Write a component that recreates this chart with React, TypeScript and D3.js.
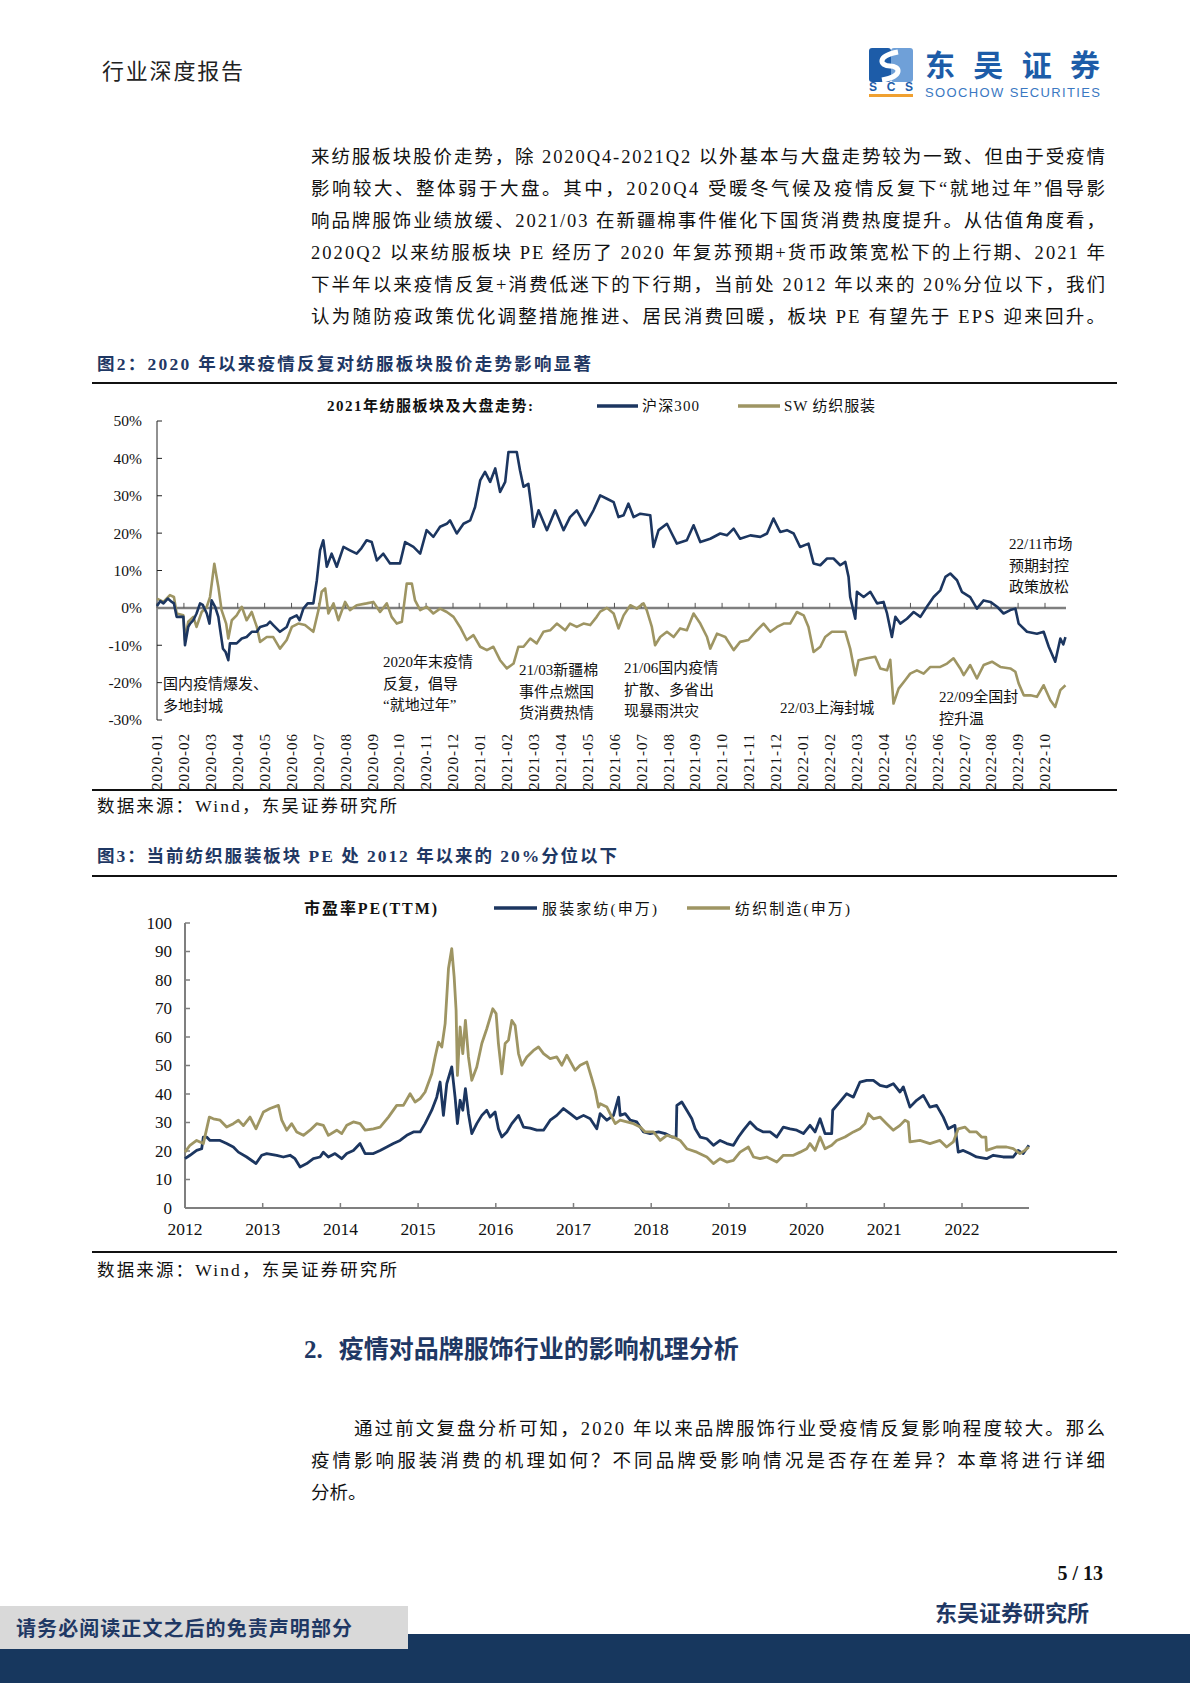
import React from "react";
import * as d3 from "d3";

const SERIF = "'Liberation Serif','Noto Sans CJK SC',serif";
const NAVY = "#1c3660";
const KHAKI = "#9e9563";
const TITLE = "#1f3864";

// ---- figure 2 : index vs sector, cumulative % since 2020-01 (x = month index)
const monthLabels = [
  "2020-01", "2020-02", "2020-03", "2020-04", "2020-05", "2020-06", "2020-07", "2020-08", "2020-09", "2020-10", "2020-11", "2020-12",
  "2021-01", "2021-02", "2021-03", "2021-04", "2021-05", "2021-06", "2021-07", "2021-08", "2021-09", "2021-10", "2021-11", "2021-12",
  "2022-01", "2022-02", "2022-03", "2022-04", "2022-05", "2022-06", "2022-07", "2022-08", "2022-09", "2022-10",
];
const pctTicks = [50, 40, 30, 20, 10, 0, -10, -20, -30];

const hs300: [number, number][] = [
  [0, 0.5], [0.12, 1.8], [0.24, 1.2], [0.4, 2.5], [0.55, 1.6], [0.63, 1.2], [0.73, -2.4], [0.98, -2.4], [1.04, -10.0], [1.16, -5.1],
  [1.23, -4.2], [1.35, -3.3], [1.47, -1.5], [1.6, 1.2], [1.7, 0.8], [1.85, -1.5], [1.95, -4.2], [2.03, 2.0], [2.16, 0.3], [2.28, -2.4],
  [2.34, -5.5], [2.45, -10.9], [2.55, -11.8], [2.65, -14.0], [2.71, -9.5], [2.96, -9.5], [3.15, -8.2], [3.33, -7.8], [3.52, -6.4], [3.71, -6.4],
  [3.83, -5.1], [4.08, -4.6], [4.2, -3.7], [4.32, -4.6], [4.57, -6.4], [4.82, -5.1], [4.94, -2.9], [5.19, -2.0], [5.3, -3.3], [5.44, -0.2],
  [5.6, 1.2], [5.81, 1.2], [5.94, 7.4], [6.06, 15.4], [6.18, 18.1], [6.31, 11.0], [6.49, 14.5], [6.68, 11.0], [6.93, 16.3], [7.17, 15.4],
  [7.42, 14.5], [7.6, 16.0], [7.79, 18.1], [7.98, 17.6], [8.17, 12.7], [8.41, 14.5], [8.66, 11.9], [9.03, 11.9], [9.22, 17.6], [9.53, 16.3],
  [9.78, 14.5], [10.02, 20.8], [10.27, 19.0], [10.52, 21.7], [10.77, 22.5], [10.89, 23.4], [11.14, 19.9], [11.39, 22.5], [11.64, 23.4], [11.82, 27.0],
  [12.01, 34.1], [12.19, 36.4], [12.38, 33.7], [12.57, 37.3], [12.75, 31.0], [12.94, 33.7], [13.06, 41.7], [13.37, 41.7], [13.49, 36.8], [13.62, 32.4],
  [13.8, 33.2], [13.93, 26.1], [13.99, 21.7], [14.18, 26.1], [14.49, 20.8], [14.8, 26.1], [15.11, 20.8], [15.35, 24.3], [15.6, 26.1], [15.91, 22.1],
  [16.22, 26.1], [16.47, 30.1], [16.72, 29.2], [16.97, 28.3], [17.15, 24.3], [17.34, 24.8], [17.52, 27.9], [17.71, 24.3], [17.96, 25.2], [18.33, 24.8],
  [18.45, 16.3], [18.64, 20.8], [18.95, 22.5], [19.13, 19.9], [19.32, 17.2], [19.69, 18.1], [19.94, 22.1], [20.19, 17.6], [20.56, 18.5], [20.93, 19.9],
  [21.18, 19.4], [21.43, 21.2], [21.67, 18.5], [22.05, 19.4], [22.42, 19.0], [22.67, 19.9], [22.91, 23.9], [23.16, 20.3], [23.41, 20.8], [23.66, 19.9],
  [23.9, 16.3], [24.21, 17.2], [24.4, 11.9], [24.65, 11.4], [24.9, 13.2], [25.14, 13.2], [25.39, 11.4], [25.58, 12.3], [25.7, 8.3], [25.76, 2.9],
  [25.95, -2.9], [26.01, 4.3], [26.26, 2.9], [26.51, 4.3], [26.76, 1.2], [27.0, 1.6], [27.13, -1.5], [27.31, -7.8], [27.44, -2.4], [27.62, -4.2],
  [27.87, -2.9], [28.12, -1.1], [28.37, -2.4], [28.61, 0.3], [28.86, 2.9], [29.11, 4.7], [29.3, 8.3], [29.48, 9.2], [29.73, 7.4], [29.91, 4.3],
  [30.22, 2.9], [30.47, -0.2], [30.72, 2.0], [30.97, 1.6], [31.22, 0.3], [31.46, -1.5], [31.71, -0.6], [31.9, -0.2], [32.02, -4.2], [32.33, -6.4],
  [32.7, -6.9], [32.95, -6.4], [33.14, -10.4], [33.38, -14.4], [33.57, -8.2], [33.68, -9.8], [33.76, -7.8],
];

const swTextile: [number, number][] = [
  [0, 2.5], [0.24, 1.6], [0.48, 3.4], [0.63, 2.9], [0.73, -1.5], [0.98, -2.0], [1.04, -8.6], [1.16, -3.7], [1.35, -2.4], [1.47, -5.1],
  [1.66, -1.1], [1.85, 0.3], [1.97, 2.9], [2.13, 11.8], [2.28, 5.6], [2.4, -0.6], [2.57, -4.2], [2.65, -8.2], [2.78, -3.3], [2.96, -2.0],
  [3.15, 0.3], [3.33, -3.3], [3.52, -1.1], [3.71, -5.1], [3.83, -9.1], [4.08, -7.8], [4.32, -7.8], [4.57, -10.9], [4.82, -8.6], [5.01, -5.1],
  [5.25, -4.2], [5.5, -4.6], [5.81, -6.4], [6.0, -0.6], [6.12, 4.3], [6.25, 5.2], [6.37, -1.5], [6.56, 1.2], [6.74, -3.3], [6.99, 1.6],
  [7.17, -0.6], [7.42, 0.7], [7.79, 1.2], [8.04, 1.6], [8.29, -1.1], [8.54, 1.2], [8.72, -2.4], [8.91, -4.2], [9.1, -3.7], [9.28, 6.5],
  [9.47, 6.5], [9.59, 2.0], [9.78, -0.6], [10.02, 0.3], [10.27, -1.5], [10.52, -0.2], [10.77, -1.1], [11.02, -2.4], [11.26, -5.1], [11.51, -8.6],
  [11.76, -7.3], [12.01, -10.4], [12.26, -11.3], [12.5, -10.4], [12.75, -14.0], [13.0, -16.2], [13.25, -14.9], [13.43, -10.4], [13.62, -10.4], [13.87, -8.2],
  [14.11, -9.5], [14.36, -6.4], [14.61, -6.0], [14.86, -4.2], [15.17, -6.0], [15.35, -4.2], [15.6, -5.1], [15.85, -4.2], [16.1, -4.6], [16.34, -2.4],
  [16.47, -1.0], [16.72, 0.0], [16.97, -1.5], [17.15, -5.5], [17.34, -2.0], [17.59, 0.7], [17.83, -0.2], [18.08, 1.2], [18.2, -0.6], [18.39, -5.1],
  [18.51, -10.0], [18.7, -7.8], [18.95, -6.4], [19.2, -7.8], [19.44, -5.5], [19.69, -6.0], [19.94, -1.5], [20.19, -4.2], [20.44, -7.8], [20.56, -10.9],
  [20.81, -6.9], [21.12, -7.8], [21.43, -11.3], [21.67, -9.1], [21.98, -8.6], [22.29, -6.0], [22.54, -4.2], [22.79, -6.4], [23.04, -5.1], [23.29, -4.2],
  [23.53, -4.2], [23.78, -1.1], [24.03, -2.0], [24.21, -5.1], [24.4, -11.8], [24.65, -10.4], [24.83, -7.8], [25.08, -6.4], [25.33, -6.4], [25.58, -6.4],
  [25.76, -10.9], [25.95, -18.0], [26.07, -14.0], [26.38, -13.5], [26.69, -13.1], [26.88, -16.2], [27.13, -16.7], [27.25, -13.9], [27.37, -25.6], [27.56, -21.6],
  [27.81, -19.3], [27.99, -17.6], [28.24, -16.7], [28.49, -17.6], [28.74, -15.8], [29.11, -15.8], [29.36, -14.9], [29.6, -13.5], [29.85, -16.2], [29.98, -18.0],
  [30.22, -15.3], [30.47, -18.9], [30.72, -15.3], [31.03, -14.4], [31.34, -15.8], [31.71, -16.2], [31.9, -17.1], [32.02, -20.2], [32.21, -23.4], [32.46, -23.4],
  [32.7, -23.8], [32.95, -20.7], [33.2, -24.7], [33.38, -26.5], [33.57, -22.0], [33.76, -20.7],
];

// ---- figure 3 : PE(TTM), x = years since 2012-01
const yearLabels = ["2012", "2013", "2014", "2015", "2016", "2017", "2018", "2019", "2020", "2021", "2022"];
const peTicks = [100, 90, 80, 70, 60, 50, 40, 30, 20, 10, 0];

const apparelPE: [number, number][] = [
  [0, 17.3], [0.064, 18.5], [0.15, 20.2], [0.215, 20.8], [0.236, 24.9], [0.279, 24.9], [0.322, 23.7], [0.451, 23.7], [0.536, 22.6], [0.622, 21.4],
  [0.687, 19.6], [0.794, 17.9], [0.914, 15.6], [0.987, 18.5], [1.052, 19.1], [1.18, 18.5], [1.266, 17.9], [1.352, 18.5], [1.416, 17.3], [1.481, 14.4],
  [1.567, 15.6], [1.652, 17.3], [1.738, 17.9], [1.781, 19.6], [1.845, 17.9], [1.931, 19.1], [2.017, 17.3], [2.082, 19.1], [2.167, 20.2], [2.253, 22.6],
  [2.318, 19.1], [2.425, 19.1], [2.511, 20.2], [2.597, 21.4], [2.682, 22.6], [2.768, 23.7], [2.854, 25.5], [2.94, 26.7], [3.026, 26.7], [3.09, 29.6],
  [3.176, 34.3], [3.24, 38.9], [3.283, 44.2], [3.326, 32.5], [3.369, 43.6], [3.433, 49.5], [3.476, 38.9], [3.506, 29.6], [3.541, 37.8], [3.575, 34.3],
  [3.609, 41.9], [3.648, 33.1], [3.691, 26.1], [3.755, 29.6], [3.82, 32.5], [3.884, 34.3], [3.927, 31.9], [3.991, 33.7], [4.034, 27.8], [4.077, 24.9],
  [4.142, 26.7], [4.206, 29.6], [4.292, 32.5], [4.356, 28.4], [4.442, 28.0], [4.528, 27.3], [4.614, 27.3], [4.7, 30.8], [4.785, 32.5], [4.871, 34.9],
  [4.957, 33.1], [5.043, 31.3], [5.129, 32.5], [5.215, 31.3], [5.3, 27.8], [5.343, 33.1], [5.43, 30.8], [5.515, 32.5], [5.58, 38.9], [5.601, 32.5],
  [5.665, 33.1], [5.73, 30.8], [5.815, 30.2], [5.901, 26.7], [5.987, 26.1], [6.094, 26.7], [6.18, 26.1], [6.266, 24.9], [6.321, 24.9], [6.33, 36.0],
  [6.394, 37.2], [6.458, 34.3], [6.523, 31.3], [6.566, 27.8], [6.63, 24.9], [6.716, 24.3], [6.801, 22.0], [6.887, 23.7], [6.973, 22.6], [7.058, 22.0],
  [7.123, 24.9], [7.187, 27.3], [7.273, 30.2], [7.359, 27.8], [7.444, 26.7], [7.53, 26.7], [7.616, 24.9], [7.701, 28.4], [7.787, 27.8], [7.873, 27.3],
  [7.959, 26.1], [8.044, 29.0], [8.109, 26.7], [8.173, 31.3], [8.237, 26.1], [8.302, 26.1], [8.323, 26.1], [8.336, 34.3], [8.409, 36.6], [8.516, 40.1],
  [8.602, 38.9], [8.687, 44.2], [8.773, 44.8], [8.859, 44.8], [8.945, 43.0], [9.03, 42.5], [9.116, 43.6], [9.202, 40.7], [9.245, 42.5], [9.33, 35.4],
  [9.416, 37.8], [9.502, 39.5], [9.587, 35.4], [9.673, 36.0], [9.759, 31.9], [9.823, 27.8], [9.909, 29.0], [9.952, 19.6], [10.016, 20.2], [10.102, 19.1],
  [10.187, 17.9], [10.316, 17.3], [10.402, 18.5], [10.53, 17.9], [10.659, 17.9], [10.723, 20.2], [10.788, 19.1], [10.861, 22.0],
];

const textilePE: [number, number][] = [
  [0, 19.6], [0.064, 22.0], [0.15, 23.7], [0.236, 22.6], [0.313, 31.9], [0.365, 31.3], [0.451, 30.8], [0.536, 28.4], [0.622, 29.6], [0.687, 30.8],
  [0.751, 28.9], [0.837, 31.9], [0.914, 27.8], [1.009, 33.7], [1.094, 34.9], [1.202, 36.0], [1.245, 30.8], [1.309, 27.3], [1.373, 29.6], [1.438, 26.7],
  [1.524, 25.5], [1.609, 27.3], [1.695, 29.6], [1.781, 29.0], [1.845, 25.5], [1.953, 27.3], [2.017, 26.1], [2.082, 29.0], [2.167, 30.2], [2.253, 29.6],
  [2.318, 27.3], [2.425, 27.8], [2.511, 28.4], [2.618, 31.9], [2.725, 36.0], [2.811, 36.0], [2.897, 40.1], [2.961, 37.2], [3.026, 38.4], [3.09, 40.7],
  [3.176, 47.1], [3.219, 53.0], [3.262, 58.2], [3.305, 56.5], [3.348, 64.7], [3.391, 84.0], [3.433, 91.0], [3.464, 81.1], [3.489, 69.4], [3.506, 46.5],
  [3.541, 63.5], [3.575, 54.2], [3.609, 65.8], [3.648, 53.0], [3.691, 44.8], [3.755, 49.5], [3.82, 57.7], [3.884, 62.9], [3.961, 69.9], [4.004, 68.2],
  [4.034, 57.7], [4.077, 47.1], [4.12, 57.7], [4.163, 58.9], [4.206, 65.8], [4.249, 64.0], [4.292, 54.2], [4.335, 50.1], [4.399, 53.0], [4.485, 55.3],
  [4.549, 56.5], [4.614, 54.2], [4.7, 52.4], [4.785, 53.0], [4.85, 50.1], [4.914, 53.6], [5.021, 48.3], [5.086, 50.1], [5.172, 51.2], [5.236, 45.4],
  [5.279, 41.3], [5.322, 35.4], [5.344, 36.6], [5.43, 35.4], [5.494, 31.9], [5.537, 29.6], [5.601, 30.8], [5.687, 30.2], [5.773, 29.6], [5.858, 28.4],
  [5.923, 26.7], [6.03, 26.7], [6.116, 23.7], [6.201, 25.5], [6.287, 24.9], [6.373, 23.7], [6.458, 20.8], [6.587, 19.6], [6.716, 17.9], [6.801, 15.6],
  [6.887, 17.3], [6.973, 16.1], [7.058, 16.7], [7.144, 19.6], [7.251, 21.4], [7.316, 17.9], [7.401, 17.3], [7.487, 17.9], [7.616, 16.1], [7.701, 18.5],
  [7.83, 18.5], [7.916, 19.6], [8.002, 20.8], [8.044, 22.6], [8.109, 20.2], [8.173, 24.9], [8.237, 20.8], [8.323, 22.0], [8.387, 23.7], [8.494, 24.9],
  [8.602, 26.7], [8.687, 27.8], [8.752, 29.6], [8.795, 33.1], [8.859, 31.3], [8.945, 31.9], [9.03, 29.6], [9.116, 27.3], [9.202, 29.0], [9.266, 30.8],
  [9.309, 30.2], [9.33, 23.2], [9.459, 23.7], [9.587, 22.6], [9.716, 23.7], [9.802, 21.4], [9.888, 23.2], [9.952, 27.8], [10.037, 28.4], [10.102, 26.7],
  [10.187, 26.7], [10.252, 24.9], [10.307, 24.9], [10.316, 20.2], [10.445, 21.4], [10.573, 21.4], [10.659, 20.8], [10.745, 19.1], [10.809, 20.2], [10.861, 21.4],
];

// ---- page text
const para1 = [
  "来纺服板块股价走势，除 2020Q4-2021Q2 以外基本与大盘走势较为一致、但由于受疫情",
  "影响较大、整体弱于大盘。其中，2020Q4 受暖冬气候及疫情反复下“就地过年”倡导影",
  "响品牌服饰业绩放缓、2021/03 在新疆棉事件催化下国货消费热度提升。从估值角度看，",
  "2020Q2 以来纺服板块 PE 经历了 2020 年复苏预期+货币政策宽松下的上行期、2021 年",
  "下半年以来疫情反复+消费低迷下的下行期，当前处 2012 年以来的 20%分位以下，我们",
  "认为随防疫政策优化调整措施推进、居民消费回暖，板块 PE 有望先于 EPS 迎来回升。",
];
const para2 = [
  "通过前文复盘分析可知，2020 年以来品牌服饰行业受疫情反复影响程度较大。那么",
  "疫情影响服装消费的机理如何？不同品牌受影响情况是否存在差异？本章将进行详细",
  "分析。",
];

const notes = [
  { x: 163, y: 689, lines: ["国内疫情爆发、", "多地封城"] },
  { x: 383, y: 667, lines: ["2020年末疫情", "反复，倡导", "“就地过年”"] },
  { x: 519, y: 675, lines: ["21/03新疆棉", "事件点燃国", "货消费热情"] },
  { x: 624, y: 673, lines: ["21/06国内疫情", "扩散、多省出", "现暴雨洪灾"] },
  { x: 780, y: 713, lines: ["22/03上海封城"] },
  { x: 939, y: 702, lines: ["22/09全国封", "控升温"] },
  { x: 1009, y: 549, lines: ["22/11市场", "预期封控", "政策放松"] },
];

export default function App() {
  // figure 2 scales
  const x1 = d3.scaleLinear().domain([0, 33]).range([157, 1045]);
  const y1 = d3.scaleLinear().domain([-30, 50]).range([720, 421]);
  const line1 = d3.line<[number, number]>().x((d) => x1(d[0])).y((d) => y1(d[1]));

  // figure 3 scales
  const x2 = d3.scaleLinear().domain([0, 10]).range([185, 962]);
  const y2 = d3.scaleLinear().domain([0, 100]).range([1208, 923]);
  const line2 = d3.line<[number, number]>().x((d) => x2(d[0])).y((d) => y2(d[1]));

  return (
    <svg width={1190} height={1683} style={{ position: "absolute", left: 0, top: 0, background: "#fff" }} fontFamily={SERIF}>
      {/* header */}
      <text x={102} y={79} fontSize={22} fill="#222" textLength={141}>行业深度报告</text>
      <g>
        <rect x={869} y={48} width={22} height={34} rx={3} fill="#1d5ca8" />
        <rect x={891} y={48} width={22} height={34} rx={3} fill="#6fa0d8" />
        <path d="M898,52 C876,56 880,66 890,66 C900,66 904,76 882,80" stroke="#fff" strokeWidth={5} fill="none" />
        <text x={869} y={91} fontSize={12} fontWeight="bold" fill="#1d5ca8" fontFamily="'Liberation Sans',sans-serif" textLength={44}>SCS</text>
        <rect x={869} y={94} width={44} height={3} fill="#f0a030" />
        <text x={925} y={76} fontSize={30} fontWeight="bold" fill="#1d5ca8" fontFamily="'Noto Sans CJK SC',sans-serif" textLength={175}>东吴证券</text>
        <text x={925} y={97} fontSize={13} fill="#3a78c2" fontFamily="'Liberation Sans',sans-serif" textLength={175}>SOOCHOW SECURITIES</text>
      </g>

      {/* paragraph 1 */}
      {para1.map((t, i) => (
        <text key={i} x={311} y={163 + i * 32} fontSize={18.5} fill="#111" textLength={794} lengthAdjust="spacing">{t}</text>
      ))}

      {/* figure 2 */}
      <text x={97} y={370} fontSize={17.5} fontWeight="bold" fill={TITLE} textLength={494}>图2：2020 年以来疫情反复对纺服板块股价走势影响显著</text>
      <line x1={92} x2={1117} y1={383} y2={383} stroke="#111" strokeWidth={2} />

      <text x={327} y={411} fontSize={15} fontWeight="bold" fill="#111" textLength={206}>2021年纺服板块及大盘走势:</text>
      <line x1={597} x2={638} y1={406} y2={406} stroke={NAVY} strokeWidth={3.5} />
      <text x={642} y={411} fontSize={15} fill="#111" textLength={57}>沪深300</text>
      <line x1={738} x2={780} y1={406} y2={406} stroke={KHAKI} strokeWidth={3.5} />
      <text x={784} y={411} fontSize={15} fill="#111" textLength={91}>SW 纺织服装</text>

      <line x1={157} x2={157} y1={y1(50)} y2={y1(-30)} stroke="#222" strokeWidth={1} />
      {pctTicks.map((v) => (
        <g key={v}>
          <line x1={157} x2={162} y1={y1(v)} y2={y1(v)} stroke="#222" strokeWidth={1} />
          <text x={142} y={y1(v)} dy="0.35em" textAnchor="end" fontSize={15.5} fill="#111">{v}%</text>
        </g>
      ))}
      <line x1={157} x2={1066} y1={y1(0)} y2={y1(0)} stroke="#7f7f7f" strokeWidth={2.5} />
      {monthLabels.map((m, i) => (
        <g key={m}>
          <line x1={x1(i)} x2={x1(i)} y1={y1(0)} y2={y1(0) - 5} stroke="#555" strokeWidth={1} />
          <text transform={`translate(${x1(i)},733) rotate(-90)`} dy="0.35em" textAnchor="end" fontSize={15} letterSpacing={1} fill="#111">{m}</text>
        </g>
      ))}
      <path d={line1(swTextile) ?? ""} fill="none" stroke={KHAKI} strokeWidth={2.6} strokeLinejoin="round" />
      <path d={line1(hs300) ?? ""} fill="none" stroke={NAVY} strokeWidth={2.6} strokeLinejoin="round" />
      {notes.map((n, i) => (
        <text key={i} x={n.x} fontSize={15} fill="#111">
          {n.lines.map((l, j) => (
            <tspan key={j} x={n.x} y={n.y + j * 21.5}>{l}</tspan>
          ))}
        </text>
      ))}

      <line x1={92} x2={1117} y1={790} y2={790} stroke="#111" strokeWidth={2} />
      <text x={97} y={812} fontSize={17.5} fill="#111" textLength={300}>数据来源：Wind，东吴证券研究所</text>

      {/* figure 3 */}
      <text x={97} y={862} fontSize={17.5} fontWeight="bold" fill={TITLE} textLength={520}>图3：当前纺织服装板块 PE 处 2012 年以来的 20%分位以下</text>
      <line x1={92} x2={1117} y1={876} y2={876} stroke="#111" strokeWidth={2} />

      <text x={304} y={914} fontSize={16} fontWeight="bold" fill="#111" textLength={133}>市盈率PE(TTM)</text>
      <line x1={494} x2={537} y1={908} y2={908} stroke={NAVY} strokeWidth={3.5} />
      <text x={542} y={914} fontSize={15} fill="#111" textLength={115}>服装家纺(申万)</text>
      <line x1={687} x2={730} y1={908} y2={908} stroke={KHAKI} strokeWidth={3.5} />
      <text x={735} y={914} fontSize={15} fill="#111" textLength={115}>纺织制造(申万)</text>

      <line x1={185} x2={185} y1={y2(100)} y2={y2(0)} stroke="#7f7f7f" strokeWidth={2} />
      {peTicks.map((v) => (
        <g key={v}>
          <line x1={185} x2={190} y1={y2(v)} y2={y2(v)} stroke="#7f7f7f" strokeWidth={1.5} />
          <text x={172} y={y2(v)} dy="0.35em" textAnchor="end" fontSize={17} fill="#111">{v}</text>
        </g>
      ))}
      <line x1={185} x2={1029} y1={y2(0)} y2={y2(0)} stroke="#7f7f7f" strokeWidth={2} />
      {yearLabels.map((yl, i) => (
        <g key={yl}>
          <line x1={x2(i)} x2={x2(i)} y1={y2(0)} y2={y2(0) - 5} stroke="#7f7f7f" strokeWidth={1.5} />
          <text x={x2(i)} y={1235} textAnchor="middle" fontSize={17.5} fill="#111">{yl}</text>
        </g>
      ))}
      <path d={line2(apparelPE) ?? ""} fill="none" stroke={NAVY} strokeWidth={2.8} strokeLinejoin="round" />
      <path d={line2(textilePE) ?? ""} fill="none" stroke={KHAKI} strokeWidth={2.8} strokeLinejoin="round" />

      <line x1={92} x2={1117} y1={1252} y2={1252} stroke="#111" strokeWidth={2} />
      <text x={97} y={1276} fontSize={17.5} fill="#111" textLength={300}>数据来源：Wind，东吴证券研究所</text>

      {/* section heading + paragraph 2 */}
      <text x={304} y={1358} fontSize={25} fontWeight="bold" fill={TITLE}>
        2.<tspan dx={16}>疫情对品牌服饰行业的影响机理分析</tspan>
      </text>
      <text x={354} y={1435} fontSize={18.5} fill="#111" textLength={751} lengthAdjust="spacing">{para2[0]}</text>
      <text x={311} y={1467} fontSize={18.5} fill="#111" textLength={794} lengthAdjust="spacing">{para2[1]}</text>
      <text x={311} y={1499} fontSize={18.5} fill="#111">{para2[2]}</text>

      {/* footer */}
      <text x={1103} y={1580} fontSize={20} fontWeight="bold" fill="#111" textAnchor="end">5 / 13</text>
      <text x={1089} y={1621} fontSize={22} fontWeight="bold" fill={TITLE} textAnchor="end">东吴证券研究所</text>
      <rect x={0} y={1634} width={1190} height={49} fill="#17375e" />
      <rect x={0} y={1606} width={408} height={43} fill="#d9d9d9" />
      <text x={16} y={1636} fontSize={20} fontWeight="bold" fill={TITLE} textLength={336}>请务必阅读正文之后的免责声明部分</text>
    </svg>
  );
}
